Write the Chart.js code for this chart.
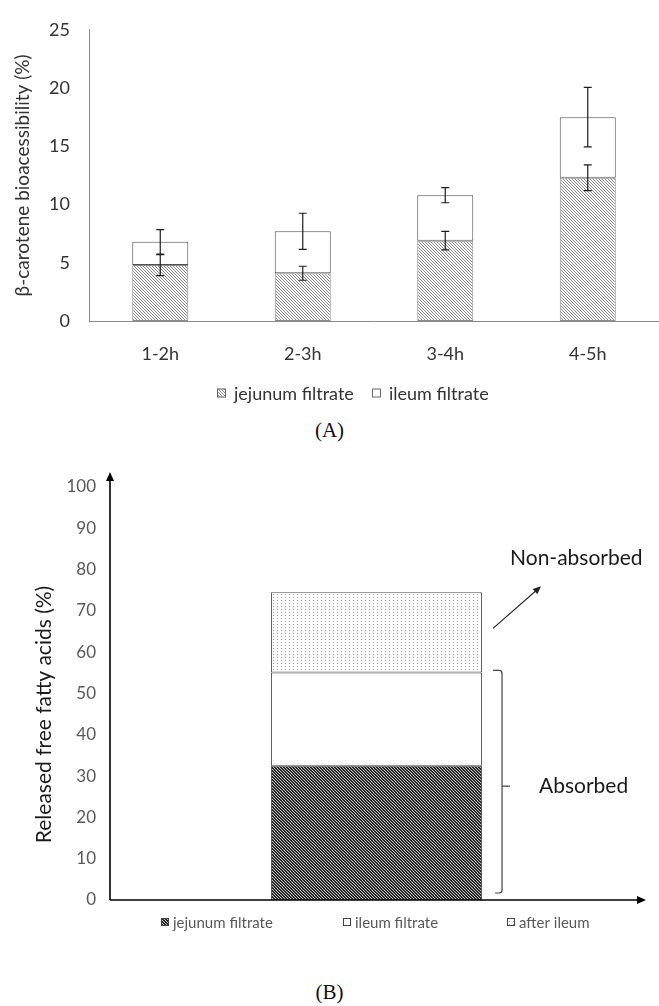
<!DOCTYPE html>
<html>
<head>
<meta charset="utf-8">
<script src="https://cdn.jsdelivr.net/npm/chart.js@4.4.0/dist/chart.umd.min.js"></script>
<style>
  body { margin: 0; background: #fff; width: 659px; height: 1006px; position: relative; overflow: hidden; }
  .wrap { position: absolute; left: 0; width: 659px; }
  #wrapA { top: 0; height: 410px; }
  #wrapB { top: 440px; height: 520px; }
  .caption { position: absolute; left: 0; width: 659px; text-align: center; font-family: "Liberation Serif", serif; font-size: 21px; color: #111; }
</style>
</head>
<body>
<div class="wrap" id="wrapA"><canvas id="chartA"></canvas></div>
<div class="caption" style="top:418px">(A)</div>
<div class="wrap" id="wrapB"><canvas id="chartB"></canvas></div>
<div class="caption" style="top:980px">(B)</div>

<script>
// Panel A - beta-carotene bioaccessibility per time window
const timeLabels = ['1-2h', '2-3h', '3-4h', '4-5h'];
const jejunumA = [4.8, 4.1, 6.9, 12.3];
const ileumA = [2.0, 3.6, 3.9, 5.2];
const jejunumErrA = [0.9, 0.6, 0.8, 1.1];
const totalErrA = [1.05, 1.55, 0.65, 2.55];
const yTicksA = [0, 5, 10, 15, 20, 25];

// Panel B - released free fatty acids (single stacked bar)
const fattyLabels = [''];
const jejunumB = [32.5];
const ileumB = [22.6];
const afterIleumB = [19.4];
const yTicksB = [0, 10, 20, 30, 40, 50, 60, 70, 80, 90, 100];

const FONT = 'Lato, "Open Sans", sans-serif';
Chart.defaults.font.family = FONT;
Chart.defaults.animation = false;

// small canvas patterns for the hatched fills
function makePattern(w, h, draw) {
    const c = document.createElement('canvas');
    c.width = w;
    c.height = h;
    const g = c.getContext('2d');
    draw(g);
    return g.createPattern(c, 'repeat');
}

const lightHatch = makePattern(3, 3, g => {
    g.fillStyle = '#fff';
    g.fillRect(0, 0, 3, 3);
    g.fillStyle = '#8a8a8a';
    for (let i = 0; i < 3; i++) g.fillRect(i, i, 1, 1);
});

const darkHatch = makePattern(3, 3, g => {
    g.fillStyle = '#2a2a2a';
    g.fillRect(0, 0, 3, 3);
    g.fillStyle = '#bdbdbd';
    for (let i = 0; i < 3; i++) g.fillRect(i, i, 1, 1);
});

const dots = makePattern(4, 3, g => {
    g.fillStyle = '#fff';
    g.fillRect(0, 0, 4, 3);
    g.fillStyle = '#a0a0a0';
    g.fillRect(1, 1, 1, 1);
});

// error bars on top of each stacked segment
const errorBars = {
    id: 'errorBars',
    afterDatasetsDraw(chart) {
        const { ctx, scales: { y } } = chart;
        const base = chart.data.labels.map(() => 0);
        ctx.save();
        ctx.strokeStyle = '#1e1e1e';
        ctx.lineWidth = 1.2;
        chart.data.datasets.forEach((ds, di) => {
            const meta = chart.getDatasetMeta(di);
            ds.data.forEach((v, i) => {
                base[i] += v;
                if (!ds.errors) return;
                const x = meta.data[i].x;
                const hi = y.getPixelForValue(base[i] + ds.errors[i]);
                const lo = y.getPixelForValue(base[i] - ds.errors[i]);
                ctx.beginPath();
                ctx.moveTo(x, hi); ctx.lineTo(x, lo);
                ctx.moveTo(x - 4, hi); ctx.lineTo(x + 4, hi);
                ctx.moveTo(x - 4, lo); ctx.lineTo(x + 4, lo);
                ctx.stroke();
            });
        });
        ctx.restore();
    }
};

// legend drawn at fixed spots (Excel-like placement)
const manualLegend = {
    id: 'manualLegend',
    afterDraw(chart, args, opts) {
        const { ctx } = chart;
        const s = opts.box;
        ctx.save();
        ctx.font = opts.font;
        ctx.textBaseline = 'middle';
        chart.data.datasets.forEach((ds, i) => {
            const x = opts.x[i];
            ctx.fillStyle = ds.backgroundColor;
            ctx.fillRect(x, opts.y - s / 2, s, s);
            ctx.strokeStyle = opts.boxBorder;
            ctx.lineWidth = 1;
            ctx.strokeRect(x + 0.5, opts.y - s / 2 + 0.5, s - 1, s - 1);
            ctx.fillStyle = opts.color;
            ctx.fillText(ds.label, x + s + opts.gap, opts.y + 1);
        });
        ctx.restore();
    }
};

function arrowHead(ctx, x, y, angle, len, half) {
    ctx.save();
    ctx.translate(x, y);
    ctx.rotate(angle);
    ctx.beginPath();
    ctx.moveTo(0, 0);
    ctx.lineTo(-len, -half);
    ctx.lineTo(-len, half);
    ctx.closePath();
    ctx.fill();
    ctx.restore();
}

// arrowed axes, y title, bracket and the two notes of panel B
const absorptionNotes = {
    id: 'absorptionNotes',
    afterDraw(chart) {
        const { ctx, chartArea: { left, right, top, bottom }, scales: { y } } = chart;
        const bar = chart.getDatasetMeta(0).data[0];
        const barRight = bar.x + bar.width / 2;
        const absorbed = jejunumB[0] + ileumB[0];
        const total = absorbed + afterIleumB[0];

        ctx.save();
        // axes
        ctx.strokeStyle = '#000';
        ctx.fillStyle = '#000';
        ctx.lineWidth = 1.6;
        ctx.beginPath();
        ctx.moveTo(left, bottom); ctx.lineTo(left, top - 8);
        ctx.moveTo(left, bottom); ctx.lineTo(right - 5, bottom);
        ctx.stroke();
        arrowHead(ctx, left, top - 15, -Math.PI / 2, 9, 4);
        arrowHead(ctx, right + 3, bottom, 0, 9, 4);

        // y title sits a bit below the middle, as in the Excel original
        ctx.save();
        ctx.translate(44, (top + bottom) / 2 + 21);
        ctx.rotate(-Math.PI / 2);
        ctx.font = '21px ' + FONT;
        ctx.fillStyle = '#1a1a1a';
        ctx.textAlign = 'center';
        ctx.textBaseline = 'middle';
        ctx.fillText('Released free fatty acids (%)', 0, 0);
        ctx.restore();

        // arrow toward "Non-absorbed"
        const yTop = y.getPixelForValue(total);
        ctx.lineWidth = 1.1;
        ctx.strokeStyle = '#222';
        ctx.fillStyle = '#222';
        const x1 = barRight + 11, y1 = yTop + 36, x2 = barRight + 59, y2 = yTop - 6;
        const ang = Math.atan2(y2 - y1, x2 - x1);
        ctx.beginPath();
        ctx.moveTo(x1, y1);
        ctx.lineTo(x2 - 6 * Math.cos(ang), y2 - 6 * Math.sin(ang));
        ctx.stroke();
        arrowHead(ctx, x2, y2, ang, 8, 3.5);

        // bracket for the absorbed part
        const bx = barRight + 20;
        const bTop = y.getPixelForValue(absorbed) - 2;
        const bBot = y.getPixelForValue(0) - 7;
        const bMid = y.getPixelForValue(absorbed / 2);
        ctx.strokeStyle = '#444';
        ctx.lineWidth = 1.2;
        ctx.beginPath();
        ctx.moveTo(barRight + 11, bTop);
        ctx.lineTo(bx - 3, bTop);
        ctx.quadraticCurveTo(bx, bTop, bx, bTop + 3);
        ctx.lineTo(bx, bBot - 3);
        ctx.quadraticCurveTo(bx, bBot, bx - 3, bBot);
        ctx.lineTo(barRight + 13, bBot);
        ctx.moveTo(bx, bMid);
        ctx.lineTo(bx + 8, bMid);
        ctx.stroke();

        // notes
        ctx.fillStyle = '#1a1a1a';
        ctx.font = '21px ' + FONT;
        ctx.textBaseline = 'middle';
        ctx.fillText('Non-absorbed', barRight + 28, yTop - 34);
        ctx.fillText('Absorbed', barRight + 57, bMid);
        ctx.restore();
    }
};

new Chart(document.getElementById('chartA'), {
    type: 'bar',
    data: {
        labels: timeLabels,
        datasets: [
            {
                label: 'jejunum filtrate',
                data: jejunumA,
                errors: jejunumErrA,
                backgroundColor: lightHatch,
                borderColor: '#8c8c8c',
                borderWidth: 1,
                borderSkipped: false
            },
            {
                label: 'ileum filtrate',
                data: ileumA,
                errors: totalErrA,
                backgroundColor: '#ffffff',
                borderColor: '#505050',
                borderWidth: 1,
                borderSkipped: false
            }
        ]
    },
    options: {
        responsive: true,
        maintainAspectRatio: false,
        layout: { padding: { top: 23, right: 0, bottom: 0, left: 0 } },
        datasets: { bar: { categoryPercentage: 1, barPercentage: 0.393 } },
        plugins: {
            legend: { display: false },
            tooltip: { enabled: false },
            manualLegend: { x: [217, 372], y: 393, box: 9, gap: 8, font: '18px ' + FONT, color: '#333', boxBorder: '#666' }
        },
        scales: {
            x: {
                stacked: true,
                grid: { display: false },
                border: { color: '#8a8a8a', width: 1 },
                ticks: { color: '#333', font: { size: 18 }, padding: 14 },
                afterFit: scale => { scale.height = 89; }
            },
            y: {
                stacked: true,
                min: yTicksA[0],
                max: yTicksA[yTicksA.length - 1],
                grid: { display: false, drawTicks: false },
                border: { color: '#8a8a8a', width: 1 },
                ticks: { stepSize: yTicksA[1] - yTicksA[0], color: '#333', font: { size: 18 }, padding: 19 },
                title: {
                    display: true,
                    text: 'β-carotene bioacessibility (%)',
                    color: '#333',
                    font: { size: 19 },
                    padding: { top: 11, bottom: 0 }
                },
                afterFit: scale => { scale.width = 89; }
            }
        }
    },
    plugins: [errorBars, manualLegend]
});

new Chart(document.getElementById('chartB'), {
    type: 'bar',
    data: {
        labels: fattyLabels,
        datasets: [
            { label: 'jejunum filtrate', data: jejunumB, backgroundColor: darkHatch, borderColor: '#555', borderWidth: 1, borderSkipped: false },
            { label: 'ileum filtrate', data: ileumB, backgroundColor: '#ffffff', borderColor: '#555', borderWidth: 1, borderSkipped: false },
            { label: 'after ileum', data: afterIleumB, backgroundColor: dots, borderColor: '#555', borderWidth: 1, borderSkipped: false }
        ]
    },
    options: {
        responsive: true,
        maintainAspectRatio: false,
        layout: { padding: { top: 47, right: 16, bottom: 0, left: 0 } },
        datasets: { bar: { categoryPercentage: 1, barPercentage: 0.396 } },
        plugins: {
            legend: { display: false },
            tooltip: { enabled: false },
            manualLegend: { x: [161, 343, 507], y: 482, box: 8, gap: 4, font: '15px ' + FONT, color: '#595959', boxBorder: '#444' }
        },
        scales: {
            x: {
                stacked: true,
                grid: { display: false },
                border: { display: false },
                ticks: { display: false },
                afterFit: scale => { scale.height = 60; }
            },
            y: {
                stacked: true,
                min: yTicksB[0],
                max: yTicksB[yTicksB.length - 1],
                grid: { display: false, drawTicks: false },
                border: { display: false },
                ticks: { stepSize: yTicksB[1] - yTicksB[0], color: '#595959', font: { size: 17 }, padding: 14 },
                afterFit: scale => { scale.width = 110; }
            }
        }
    },
    plugins: [manualLegend, absorptionNotes]
});
</script>
</body>
</html>
